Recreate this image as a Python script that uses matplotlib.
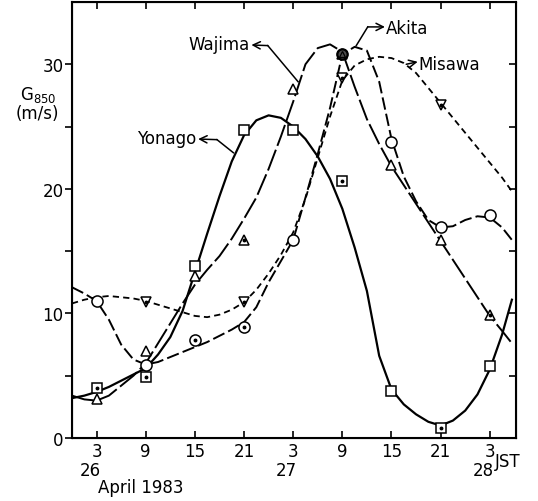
import matplotlib
matplotlib.use('Agg')
import matplotlib.pyplot as plt

plt.rcParams['font.family'] = ['DejaVu Sans']
plt.rcParams['lines.scale_dashes'] = False

# hours counted from 26 April 1983 00 JST
obs_hours = [3, 9, 15, 21, 27, 33, 39, 45, 51]
yonago_obs = [4.0, 4.9, 13.8, 24.7, 24.7, 20.6, 3.8, 0.8, 5.8]
wajima_obs = [3.1, 7.0, 13.0, 15.9, 28.0, 30.8, 21.9, 15.9, 9.9]
akita_obs = [11.0, 5.9, 7.9, 8.9, 15.9, 30.8, 23.8, 16.9, 17.9]
misawa_hours = [9, 21, 33, 45]
misawa_obs = [10.9, 10.9, 28.9, 26.7]

curve_hours = [0, 1.5, 3, 4.5, 6, 7.5, 9, 10.5, 12, 13.5, 15, 16.5, 18, 19.5,
               21, 22.5, 24, 25.5, 27, 28.5, 30, 31.5, 33, 34.5, 36, 37.5,
               39, 40.5, 42, 43.5, 45, 46.5, 48, 49.5, 51, 52.5, 53.7]
yonago_curve = [3.2, 3.4, 3.7, 4.1, 4.6, 5.1, 5.6, 6.7, 8.1, 10.2, 13.3, 16.4,
                19.4, 22.2, 24.3, 25.5, 25.9, 25.7, 25.0, 24.0, 22.6, 20.8,
                18.4, 15.3, 11.8, 6.6, 3.9, 2.7, 1.9, 1.3, 1.0, 1.4, 2.2, 3.5,
                5.5, 8.3, 11.1]
wajima_curve = [3.4, 3.1, 3.0, 3.4, 4.2, 5.0, 6.0, 7.6, 9.2, 10.8, 12.3, 13.5,
                14.6, 16.0, 17.6, 19.3, 21.6, 24.2, 27.0, 30.0, 31.3, 31.6,
                31.0, 28.2, 25.6, 23.6, 21.8, 20.3, 18.8, 17.3, 15.8, 14.3,
                12.8, 11.3, 9.8, 8.6, 7.6]
akita_curve = [12.1, 11.6, 11.0, 9.5, 7.5, 6.3, 5.9, 6.1, 6.5, 6.9, 7.3, 7.7,
               8.2, 8.7, 9.3, 10.5, 12.5, 14.2, 15.9, 19.3, 22.8, 26.5, 30.8,
               31.4, 31.1, 28.6, 24.0, 21.0, 19.0, 17.5, 16.9, 17.0, 17.5,
               17.8, 17.7, 16.9, 15.9]
misawa_curve = [10.8, 11.1, 11.3, 11.4, 11.3, 11.2, 11.0, 10.7, 10.4, 10.1,
                9.8, 9.7, 9.9, 10.3, 10.9, 11.9, 13.2, 14.7, 16.5, 19.2, 22.5,
                25.8, 28.7, 29.9, 30.4, 30.6, 30.5, 30.1, 29.3, 28.1, 26.9,
                25.7, 24.5, 23.3, 22.1, 20.9, 19.8]

# which observations carry a centre dot
yonago_dot = [3, 9, 33, 45]
wajima_dot = [21, 51]
akita_dot = [15, 21]

hour_labels = ['3', '9', '15', '21', '3', '9', '15', '21', '3']
day_labels = ['26', '27', '28']
day_hours = [3, 27, 51]

fig = plt.figure(figsize=(5.38, 5.02), dpi=100)
ax = fig.add_axes([72 / 538, 63 / 502, 444 / 538, 436 / 502])

ax.plot(curve_hours, yonago_curve, color='black', lw=1.6)
ax.plot(curve_hours, wajima_curve, color='black', lw=1.4, dashes=(16, 3))
ax.plot(curve_hours, akita_curve, color='black', lw=1.4, dashes=(9, 3))
ax.plot(curve_hours, misawa_curve, color='black', lw=1.3, dashes=(4.5, 3))

mk = dict(color='none', mfc='white', mec='black', mew=1.1, zorder=5)
ax.plot(obs_hours, yonago_obs, marker='s', ms=6.5, **mk)
ax.plot(obs_hours, wajima_obs, marker='^', ms=7.5, **mk)
ax.plot(obs_hours, akita_obs, marker='o', ms=8, **mk)
ax.plot(misawa_hours, misawa_obs, marker='v', ms=7.5, **mk)


def dots(hours, values, keep):
    xs = [h for h, v in zip(hours, values) if h in keep]
    ys = [v for h, v in zip(hours, values) if h in keep]
    ax.plot(xs, ys, 'o', color='black', ms=1.8, zorder=6)


dots(obs_hours, yonago_obs, yonago_dot)
dots(obs_hours, wajima_obs, wajima_dot)
dots(obs_hours, akita_obs, akita_dot)
dots(misawa_hours, misawa_obs, misawa_hours)
# the Wajima/Akita point at 9 JST 27th is drawn dark
ax.plot([33], [30.8], 'o', color='black', ms=7, mfc='0.3', mew=1.2, zorder=6)
ax.plot([33], [30.8], '^', color='black', ms=4.5, mfc='none', mew=0.9, zorder=7)

ax.set_xlim(0, 54.2)
ax.set_ylim(0, 35)
ax.set_xticks(obs_hours)
ax.set_xticklabels(hour_labels)
ax.set_yticks([0, 10, 20, 30])
ax.set_yticks([5, 15, 25], minor=True)
ax.tick_params(axis='x', direction='in', top=True, length=5, width=1.2,
               labelsize=12, pad=3)
ax.tick_params(axis='y', which='both', direction='out', length=5, width=1.2,
               labelsize=12, pad=1)
for s in ax.spines.values():
    s.set_linewidth(1.5)

axr = ax.twinx()
axr.set_ylim(0, 35)
axr.set_yticks([5, 10, 15, 20, 25, 30])
axr.tick_params(axis='y', direction='in', length=5, width=1.2, labelright=False)

for d, h in zip(day_labels, day_hours):
    ax.text(h - 0.8, -2.6, d, ha='center', va='center', fontsize=12, clip_on=False)
ax.text(51.6, -1.85, 'JST', ha='left', va='center', fontsize=12, clip_on=False)
ax.text(3.2, -3.95, 'April 1983', ha='left', va='center', fontsize=12, clip_on=False)

fig.text(38 / 538, 1 - 95 / 502, 'G$_{850}$', ha='center', va='center', fontsize=12)
fig.text(37 / 538, 1 - 114 / 502, '(m/s)', ha='center', va='center', fontsize=12)

# station labels with their leaders
arr = dict(arrowstyle='->', lw=1.1, color='black', shrinkA=0, shrinkB=0,
           mutation_scale=13)
ax.plot([19.7, 17.7], [22.9, 23.95], color='black', lw=1.1)
ax.annotate('', xy=(15.4, 24.0), xytext=(17.7, 23.95), arrowprops=arr)
ax.text(15.2, 24.1, 'Yonago', ha='right', va='center', fontsize=12)

ax.plot([27.6, 23.9], [28.6, 31.5], color='black', lw=1.1)
ax.annotate('', xy=(21.9, 31.55), xytext=(23.9, 31.5), arrowprops=arr)
ax.text(21.7, 31.6, 'Wajima', ha='right', va='center', fontsize=12)

ax.plot([34.7, 36.1], [31.5, 33.0], color='black', lw=1.1)
ax.annotate('', xy=(38.2, 33.0), xytext=(36.1, 33.0), arrowprops=arr)
ax.text(38.3, 32.9, 'Akita', ha='left', va='center', fontsize=12)

ax.annotate('', xy=(42.2, 30.2), xytext=(40.8, 30.0), arrowprops=arr)
ax.text(42.3, 30.05, 'Misawa', ha='left', va='center', fontsize=12)

fig.savefig('out.png', dpi=100)
